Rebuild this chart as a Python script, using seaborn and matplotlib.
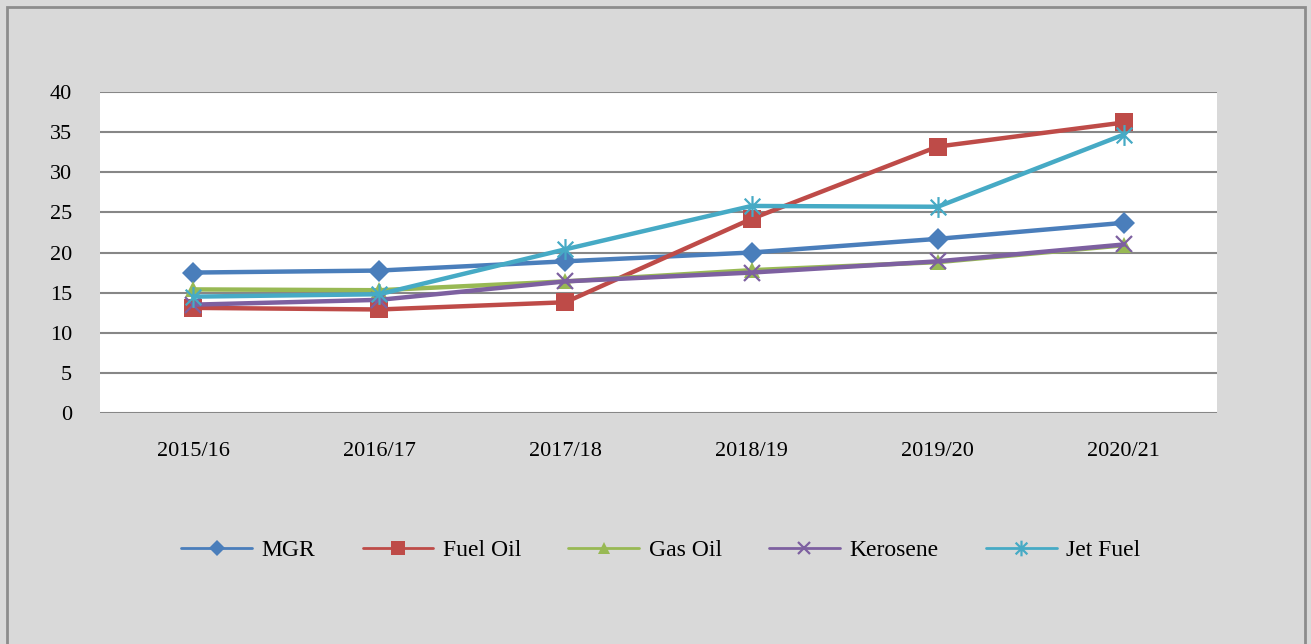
import pandas as pd
import matplotlib
matplotlib.use('Agg')
import matplotlib.pyplot as plt
from matplotlib.patches import Rectangle
from matplotlib.path import Path
import seaborn as sns

years = ['2015/16', '2016/17', '2017/18', '2018/19', '2019/20', '2020/21']
mgr = [17.5, 17.75, 18.9, 20.0, 21.7, 23.7]
fuel_oil = [13.1, 12.9, 13.8, 24.2, 33.2, 36.2]
gas_oil = [15.4, 15.3, 16.4, 17.8, 18.8, 20.9]
kerosene = [13.5, 14.1, 16.4, 17.5, 18.9, 21.0]
jet_fuel = [14.5, 14.8, 20.4, 25.8, 25.7, 34.7]

# Excel style star marker: x plus a vertical bar
star = Path([(0, -1), (0, 1), (-0.75, -0.75), (0.75, 0.75), (-0.75, 0.75), (0.75, -0.75)],
            [Path.MOVETO, Path.LINETO, Path.MOVETO, Path.LINETO, Path.MOVETO, Path.LINETO])

series = {'MGR': mgr, 'Fuel Oil': fuel_oil, 'Gas Oil': gas_oil,
          'Kerosene': kerosene, 'Jet Fuel': jet_fuel}
colors = {'MGR': '#4a7ebb', 'Fuel Oil': '#be4b48', 'Gas Oil': '#98b954',
          'Kerosene': '#7d60a0', 'Jet Fuel': '#46aac5'}
markers = {'MGR': 'D', 'Fuel Oil': 's', 'Gas Oil': '^',
           'Kerosene': 'x', 'Jet Fuel': star}
msizes = {'MGR': 11, 'Fuel Oil': 13, 'Gas Oil': 12, 'Kerosene': 12, 'Jet Fuel': 15}

rows = []
for name, vals in series.items():
    for i, v in enumerate(vals):
        rows.append({'pos': i, 'Fuel': name, 'value': v})
df = pd.DataFrame(rows)

sns.set_style('white')
plt.rcParams['font.family'] = ['Liberation Serif', 'DejaVu Serif']

fig = plt.figure(figsize=(13.11, 6.44), dpi=100, facecolor='#d9d9d9')
ax = fig.add_axes([100 / 1311, 1 - 413 / 644, 1117 / 1311, 321 / 644])
ax.set_facecolor('white')

for name in series:
    sub = df[df['Fuel'] == name]
    line_like = name in ('Kerosene', 'Jet Fuel')
    sns.lineplot(data=sub, x='pos', y='value', ax=ax, color=colors[name],
                 linewidth=3.2, marker=markers[name], markersize=msizes[name],
                 markeredgewidth=1.6 if line_like else 0,
                 markerfacecolor='none' if name == 'Jet Fuel' else colors[name],
                 markeredgecolor=colors[name], label=name)

ax.set_xlim(-0.5, 5.5)
ax.set_ylim(0, 40)
ax.set_yticks(range(0, 41, 5))
ax.set_xticks(range(len(years)))
ax.set_xticklabels(years)
ax.set_xlabel('')
ax.set_ylabel('')
ax.grid(axis='y', color='#878787', linewidth=1.5)
ax.set_axisbelow(True)
for s in ax.spines.values():
    s.set_visible(False)
ax.tick_params(axis='both', length=0, labelsize=16, colors='black')
ax.tick_params(axis='y', pad=20)
ax.tick_params(axis='x', pad=21)

handles, labels = ax.get_legend_handles_labels()
ax.legend_.remove()
leg = fig.legend(handles, labels, loc='center', bbox_to_anchor=(0.504, 1 - 550 / 644),
                 ncol=5, frameon=False, fontsize=17, handlelength=3.0,
                 columnspacing=2.0, handletextpad=0.4, markerscale=0.75,
                 labelcolor='black')
for h in leg.legend_handles:
    h.set_linewidth(2)

fig.patches.append(Rectangle((7 / 1311, -0.05), 1298 / 1311, 1.05 - 7 / 644,
                             transform=fig.transFigure, fill=False,
                             edgecolor='#8c8c8c', linewidth=2))

fig.savefig('out.png', dpi=100, facecolor=fig.get_facecolor())
